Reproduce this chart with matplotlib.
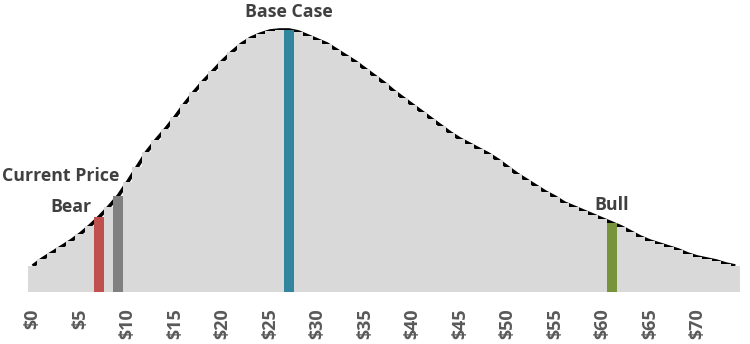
import matplotlib
matplotlib.use("Agg")
import matplotlib.pyplot as plt
import numpy as np

plt.rcParams['font.family'] = ['Open Sans', 'DejaVu Sans']

# price buckets ($0 .. $74) and relative frequency
prices = list(range(0, 75))
freq = [26, 33, 39, 45, 51, 58, 66, 75, 85, 96,
        110, 125, 140, 152, 163, 175, 188, 200, 211, 221,
        231, 240, 248, 254, 258, 261, 262, 262, 260, 256,
        252, 248, 242, 236, 230, 223, 216, 209, 201, 194,
        187, 180, 173, 166, 159, 153, 148, 143, 138, 132,
        125, 118, 112, 106, 100, 95, 89, 85, 81, 77,
        73, 69, 65, 60, 55, 51, 48, 45, 42, 38,
        35, 33, 31, 28, 26]

# highlighted scenarios
scenarios = ["Bear", "Current Price", "Base Case", "Bull"]
scenario_prices = [7, 9, 27, 61]
scenario_colors = ["#C0504D", "#808080", "#31859C", "#77933C"]

tick_prices = list(range(0, 75, 5))
tick_labels = ["$%d" % p for p in tick_prices]

fig = plt.figure(figsize=(7.5, 3.44), dpi=100)
ax = fig.add_axes([28 / 750, 52 / 344, 712 / 750, 290 / 344])

colors = ["#D9D9D9"] * len(prices)
for p, c in zip(scenario_prices, scenario_colors):
    colors[prices.index(p)] = c

ax.plot(prices, freq, color="black", lw=2.6, zorder=1, solid_capstyle="butt")
ax.bar(prices, freq, width=1.0, color=colors, zorder=2, linewidth=0)

# labels next to the highlighted bars
label_pos = {
    "Bear": (4.0, 85, "center"),
    "Current Price": (2.9, 116, "center"),
    "Base Case": (27, 280, "center"),
    "Bull": (61.0, 87, "center"),
}
for name in scenarios:
    x, y, ha = label_pos[name]
    ax.text(x, y, name, ha=ha, va="center", fontsize=12.8, fontweight="bold",
            color="#404040", zorder=3)

ax.set_xlim(-0.5, 74.5)
ax.set_ylim(0, 290)
ax.set_xticks(tick_prices)
ax.set_xticklabels(tick_labels, rotation=90, fontsize=13, fontweight="bold",
                   color="#595959")
ax.tick_params(axis="x", length=0, pad=12)
ax.set_yticks([])
for s in ax.spines.values():
    s.set_visible(False)

fig.savefig("out.png", dpi=100)
